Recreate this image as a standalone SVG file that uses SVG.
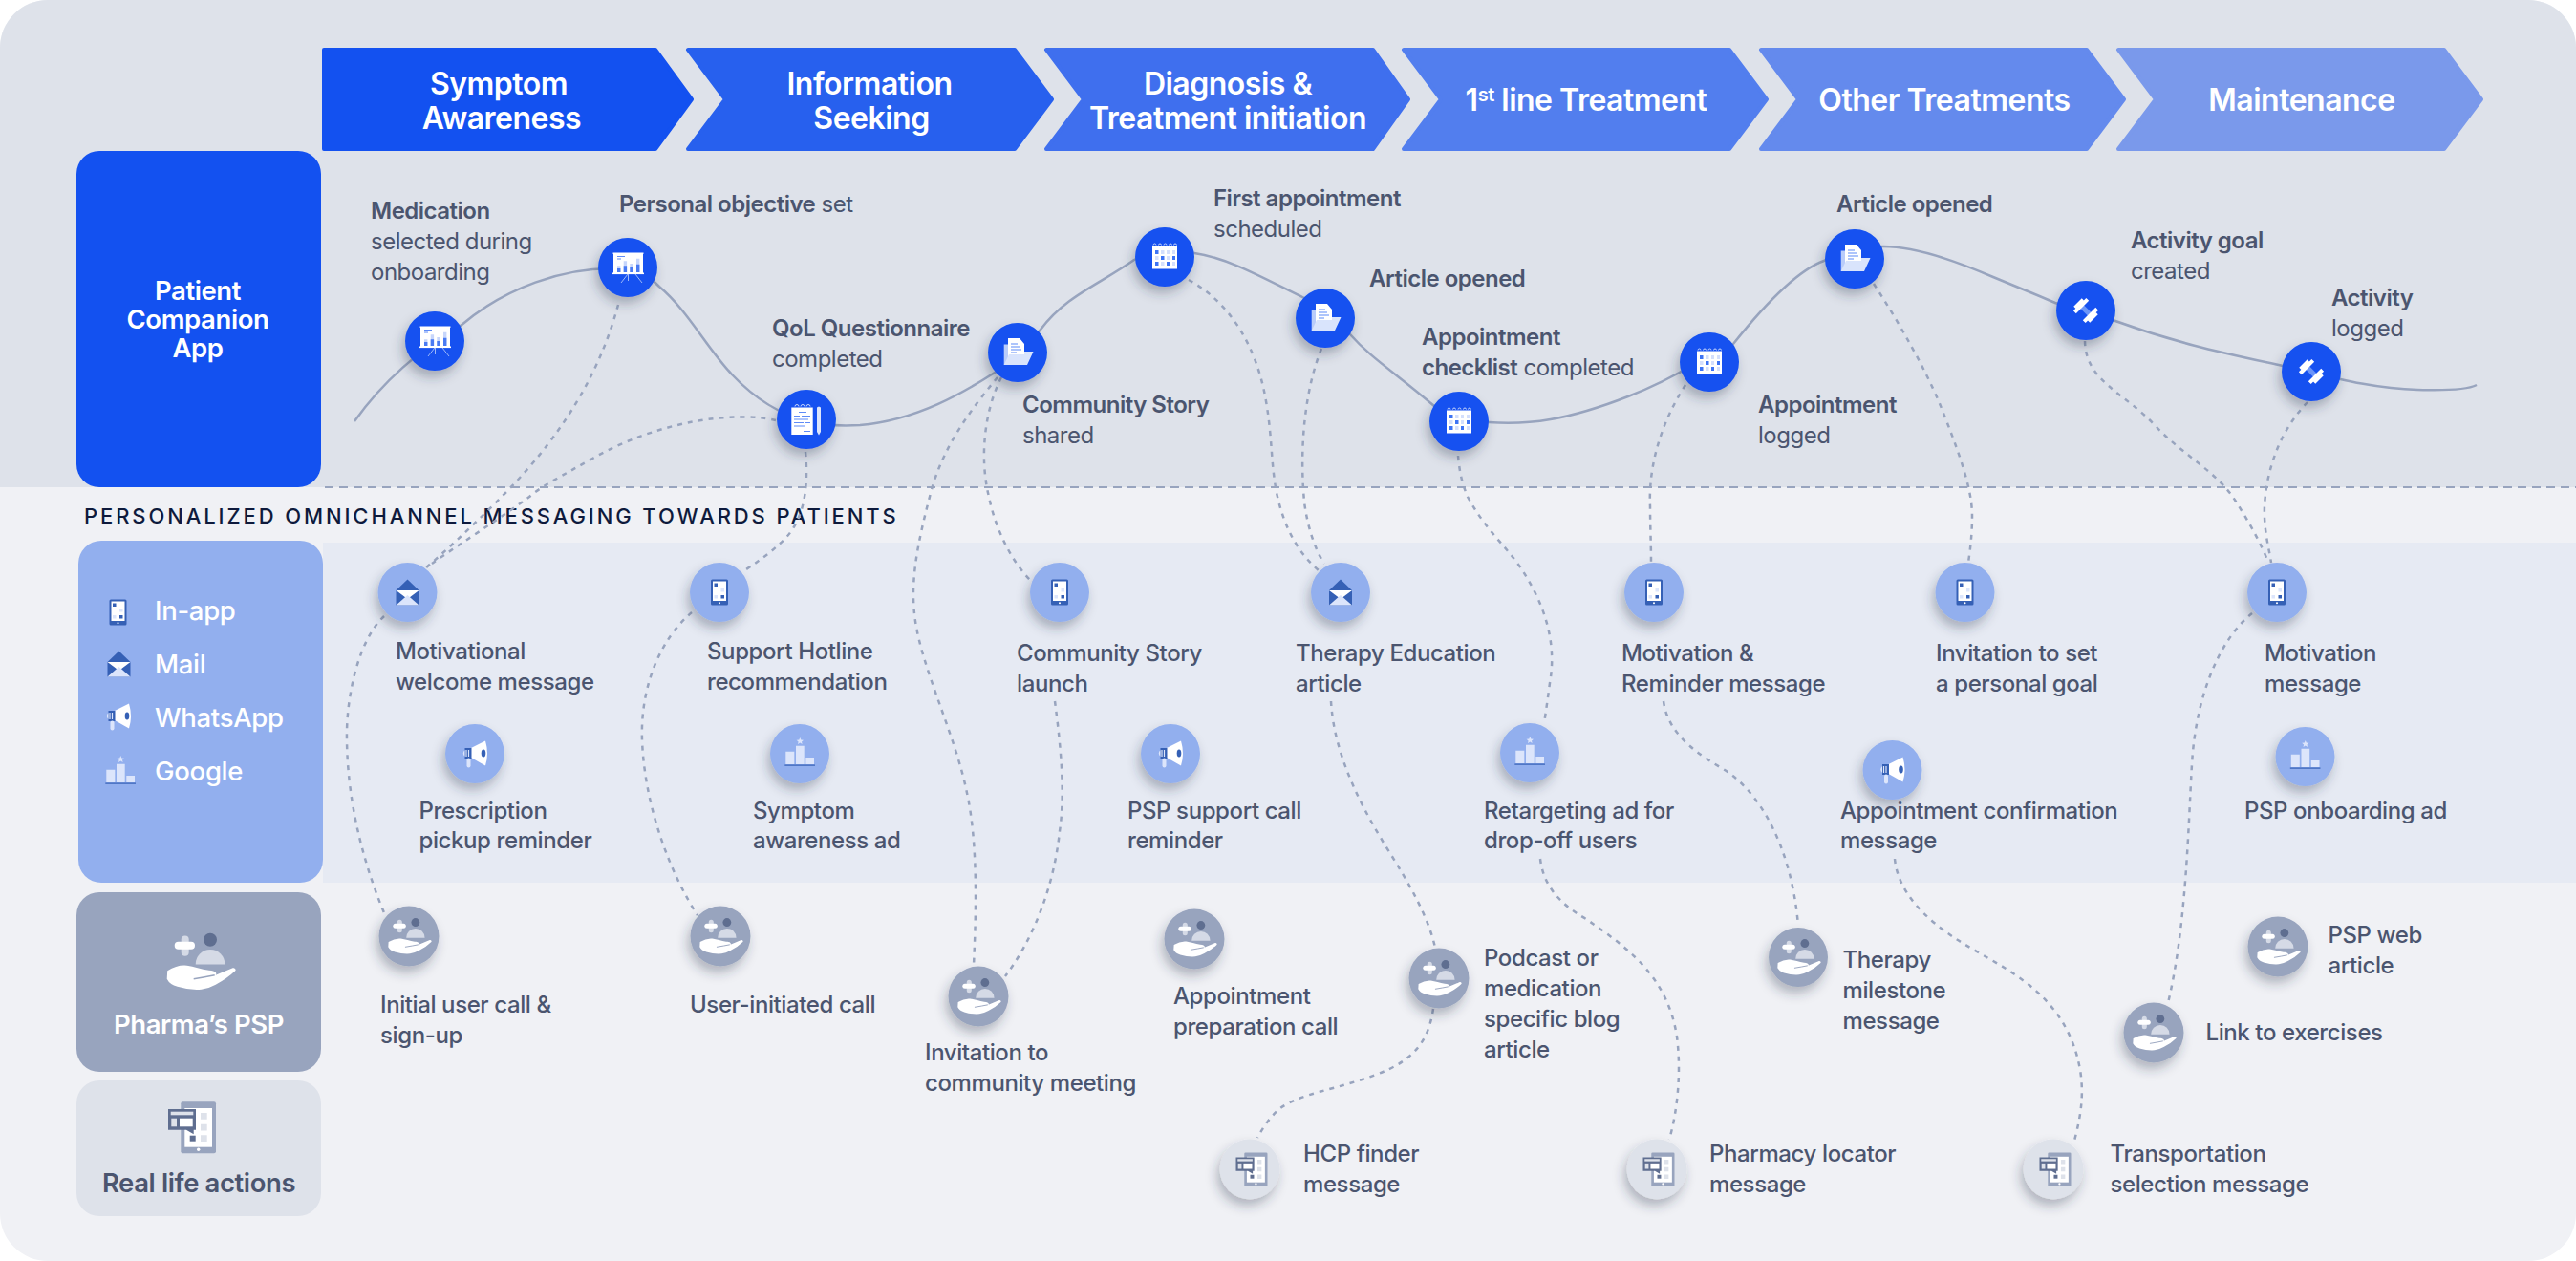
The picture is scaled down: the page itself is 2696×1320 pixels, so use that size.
<svg xmlns="http://www.w3.org/2000/svg" width="2696" height="1320" viewBox="0 0 2696 1320">
<style>
text{font-family:Inter,"Noto Sans","Liberation Sans",sans-serif}
.h{fill:#fff;font-size:32px;font-weight:600;text-anchor:middle;letter-spacing:-.5px}
.r{fill:#fff;font-size:27.500px;font-weight:600;text-anchor:middle;letter-spacing:-.4px}
.g{fill:#fff;font-size:27.500px;font-weight:500;letter-spacing:-.3px}
.l{fill:#4B556F;font-size:24px;font-weight:400;letter-spacing:-.5px}
.m{fill:#4B556F;font-size:24px;font-weight:500;letter-spacing:-.4px}
.b{font-weight:600}
.top{fill:#1351F0;filter:url(#sh)}
.mid{fill:#92AFEE;filter:url(#sh)}
.psp{fill:#98A4BE;filter:url(#sh)}
.rl{fill:#DEE2EA;filter:url(#sh)}
#curve{fill:none;stroke:#98A4BE;stroke-width:2.500}
#links path{fill:none;stroke:#98A4BE;stroke-width:2.500;stroke-dasharray:5 6}
</style>
<defs>
<filter id="sh" x="-40%" y="-40%" width="180%" height="190%"><feDropShadow dx="-3" dy="7" stdDeviation="6" flood-color="#27324f" flood-opacity=".32"/></filter>
<g id="i-pres">
<rect x="-15" y="-15" width="31" height="21" fill="#fff"/><rect x="-16" y="5.500" width="33" height="1.600" fill="#fff"/><rect x="-15.500" y="-15.500" width="32" height="1.400" fill="#fff"/>
<path d="M-11-11.500h8M-11-9h4" stroke="#5E8BF7" stroke-width="1.200"/>
<path d="M-11-1.700h3.400V5H-11zM-4.300-6.700h3.400V5h-3.400zM2.300-4h3.400V5H2.300zM9-9.300h3.400V5H9z" fill="#C7D6FB"/>
<path d="M-11 1h3.400v4H-11zM-4.300-1.700h3.400V5h-3.400zM2.300 0h3.400v5H2.300zM9-3.300h3.400V5H9z" fill="#4A7BF3"/>
<path d="M0 7-7 16M8 7l7 9M.5 7v7" stroke="#9DB8F8" stroke-width="1" fill="none"/>
</g>
<g id="i-note">
<rect x="-15.700" y="-12.500" width="22.400" height="28.500" fill="#fff"/>
<path d="M-12-13.500a2 2 0 0 1 4 0M-6-13.500a2 2 0 0 1 4 0M0-13.500a2 2 0 0 1 4 0" fill="none" stroke="#C7D6FB" stroke-width="1"/>
<path d="M-8-7.500H0M-13-3.500h6M-5-3.500H4M-13 0h15M-13 3.500H-3M-1 3.500H4M-13 7h12M-3 12.500H4" stroke="#5E8BF7" stroke-width="1.200"/>
<path d="M11-12.500l2-1 2 1V13l-2 3.500-2-3.500z" fill="#DCE5FB"/>
</g>
<g id="i-doc">
<path d="M-14.300-8.500H-6V13H-14.300z" fill="#B9CCFA"/>
<path d="M-10-15H2L7-9V5H-10z" fill="#fff"/>
<path d="M-7-9H0M-7-6H2M-7-3H4M-7 0H-1" stroke="#5E8BF7" stroke-width="1.200"/>
<path d="M-14.300 13-9 2H7V-1H16.500L10 13z" fill="#D9E4FC"/>
</g>
<g id="i-cal">
<rect x="-13" y="-11.500" width="26" height="24" fill="#fff"/>
<path d="M-12-12.500a1.400 1.400 0 0 1 3 0M-6.500-12.500a1.400 1.400 0 0 1 3 0M-1-12.500a1.400 1.400 0 0 1 3 0M4.500-12.500a1.400 1.400 0 0 1 3 0M9.500-12.500a1.400 1.400 0 0 1 3 0" fill="none" stroke="#C7D6FB" stroke-width="1"/>
<path d="M-4-7H-.5v4H-4zM8-7h3v4H8zM-10-1h3.500v4H-10zM8 5h3v4H8zM-4 5H-.5v4H-4zM2-7h3v4H2zM2-1h3v4H2z" fill="#D4DFFC"/>
<path d="M-10-7h3.500v4H-10zM-4-1H-.5v4H-4zM8-1h3v4H8zM-10 5h3.500v4H-10zM2 5h3v4H2z" fill="#3E74F4"/>
</g>
<g id="i-gym">
<g transform="rotate(45)">
<rect x="-9" y="-2.500" width="18" height="5" fill="#6C95F8"/>
<path d="M-12-6h3V6h-3zM-9-9.500h4V9.500h-4zM9-6h3V6H9zM5-9.500h4V9.500H5z" fill="#fff"/>
</g>
</g>
<g id="i-phone">
<rect x="-9" y="-13.500" width="18" height="27" rx="1.500" fill="#3560B5"/><rect x="-7" y="-11.500" width="14" height="20.500" fill="#fff"/>
<rect x="-5.500" y="-9.500" width="3.500" height="3.500" fill="#3560B5"/><rect x="1.500" y="-4" width="3.500" height="3.500" fill="#DCE5FB"/><rect x="-5.500" y="3" width="3.500" height="3.500" fill="#DCE5FB"/><rect x="1.500" y="3" width="3.500" height="3.500" fill="#3560B5"/>
<circle cx="0" cy="11.300" r="1" fill="#fff"/>
</g>
<g id="i-mail">
<path d="M0-13.500 12-2V13.500H-12V-2z" fill="#3560B5"/><path d="M-12-2H12L0 7z" fill="#fff"/><path d="M-12 13.500 0 3 12 13.500z" fill="#DCE5FB"/>
</g>
<g id="i-horn">
<path d="M-4-6 11-13.500Q15 0 11 12.500L-4 4z" fill="#fff"/><rect x="-10.500" y="-6" width="7" height="11" fill="#3560B5"/><path d="M-9-4v7M-6.500-4v7" stroke="#DCE5FB" stroke-width="1.200"/>
<path d="M-10.500-4Q-14-.5-10.500 3z" fill="#DCE5FB"/><rect x="-8.500" y="4.500" width="4" height="10" rx="2" fill="#DCE5FB"/><ellipse cx="9" cy="-.5" rx="2.300" ry="4" fill="#3560B5"/>
</g>
<g id="i-pod">
<path d="M-14.700-2.300h9V11h-9zM-4-8.300h8.700V11H-4zM6.300 4H15v7H6.300z" fill="#DCE5FB"/>
<path d="M.3-17l1 2.500 2.700.2-2 1.700.6 2.600-2.300-1.400-2.300 1.400.6-2.600-2-1.700 2.700-.2z" fill="#DCE5FB"/>
<rect x="-15.700" y="11.500" width="31.700" height="1.200" fill="#3560B5"/>
</g>
<g id="i-hand">
<rect x="-21" y="-27.300" width="8" height="21.300" rx="4" fill="#D5DAE6"/><rect x="-28" y="-21" width="21.300" height="8" rx="4" fill="#fff"/>
<circle cx="9.300" cy="-23" r="7" fill="#5F6E90"/><path d="M-6 2.700A15.300 15.300 0 0 1 24.700 2.700z" fill="#D5DAE6"/>
<path d="M-35.500 9.500Q-25 3-15 4C-8 5 0 8 8 9 14 9 17 12 15 14L33 6.500Q36 6 36 9 28 17 15 24 8 28 0 29-12 30-25 26-33 24-36 18-35.500 9.500Z" fill="#fff"/>
<path d="M-8 18Q4 16 14 14" stroke="#98A4BE" stroke-width="1.500" fill="none"/>
</g>
<g id="i-real">
<rect x="-11.700" y="-26.700" width="36.700" height="54" rx="2" fill="#98A4BE"/><rect x="-7.700" y="-20" width="28.700" height="40.700" fill="#fff"/>
<path d="M9-15h6.700v6.700H9zM9-3.300h6.700v6.700H9zM9 8.300h6.700V15H9z" fill="#DEE2EA"/><rect x="-2.300" y="8.700" width="6" height="6" fill="#5F6E90"/><circle cx="6.700" cy="23.300" r="1.700" fill="#fff"/>
<path d="M-25-19H4V2.700H1.700V7.300L-6 2.700H-25z" fill="#5F6E90"/><rect x="-22.300" y="-16.300" width="23.600" height="3.600" fill="#DEE2EA"/><rect x="-21.700" y="-9.300" width="5.700" height="8.600" fill="#DEE2EA"/><rect x="-13" y="-9.300" width="13.700" height="8.600" fill="#fff"/>
</g>
</defs>

<g id="background">
<rect width="2696" height="1320" rx="50" fill="#F0F1F5"/>
<path d="M0 510V50A50 50 0 0 1 50 0H2646A50 50 0 0 1 2696 50V510Z" fill="#DEE2EA"/>
<rect x="338" y="568" width="2358" height="356" fill="#E6EAF3"/>
<path d="M340 510H2696" stroke="#98A4BE" stroke-width="2" stroke-dasharray="9 6"/>
</g>

<g id="stages" stroke-linejoin="round" stroke-width="4">
<g id="stage-1"><path d="M339 52H686L724 104 686 156H339Z" fill="#1351F0" stroke="#1351F0"/><text class="h" x="522" y="99">Symptom</text><text class="h" x="525" y="135">Awareness</text></g>
<g id="stage-2"><path d="M720 52H1062L1101 104 1062 156H720L759 104Z" fill="#2760EE" stroke="#2760EE"/><text class="h" x="910" y="99">Information</text><text class="h" x="912" y="135">Seeking</text></g>
<g id="stage-3"><path d="M1095 52H1437L1474 104 1437 156H1095L1134 104Z" fill="#3F6FEE" stroke="#3F6FEE"/><text class="h" x="1285" y="99">Diagnosis &amp;</text><text class="h" x="1285" y="135">Treatment initiation</text></g>
<g id="stage-4"><path d="M1469 52H1810L1849 104 1810 156H1469L1508 104Z" fill="#527EEE" stroke="#527EEE"/><text class="h" x="1660" y="116">1<tspan dy="-10" font-size="20">st</tspan><tspan dy="10"> line Treatment</tspan></text></g>
<g id="stage-5"><path d="M1843 52H2184L2223 104 2184 156H1843L1882 104Z" fill="#648AED" stroke="#648AED"/><text class="h" x="2035" y="116">Other Treatments</text></g>
<g id="stage-6"><path d="M2217 52H2558L2597 104 2558 156H2217L2256 104Z" fill="#7A99EB" stroke="#7A99EB"/><text class="h" x="2409" y="116">Maintenance</text></g>
</g>

<g id="row-labels">
<g id="row-app"><rect x="80" y="158" width="256" height="352" rx="24" fill="#1351F0"/><text class="r" x="207" y="314">Patient</text><text class="r" x="207" y="344">Companion</text><text class="r" x="207" y="374">App</text></g>
<text x="88" y="548" fill="#0E1A3C" font-size="22" font-weight="500" letter-spacing="2.900">PERSONALIZED OMNICHANNEL MESSAGING TOWARDS PATIENTS</text>
<g id="row-channels"><rect x="82" y="566" width="256" height="358" rx="24" fill="#92AFEE"/>
<use href="#i-phone" transform="translate(123.500,641)"/><text class="g" x="162" y="649">In-app</text>
<use href="#i-mail" transform="translate(124.500,695)"/><text class="g" x="162" y="705">Mail</text>
<use href="#i-horn" transform="translate(124,750)"/><text class="g" x="162" y="761">WhatsApp</text>
<use href="#i-pod" transform="translate(126,808)"/><text class="g" x="162" y="817">Google</text></g>
<g id="row-psp"><rect x="80" y="934" width="256" height="188" rx="24" fill="#98A4BE"/><use href="#i-hand" transform="translate(210.700,1006.700)"/><text class="r" x="208" y="1082">Pharma’s PSP</text></g>
<g id="row-real"><rect x="80" y="1131" width="256" height="142" rx="24" fill="#DEE2EA"/><use href="#i-real" transform="translate(201,1180)"/><text class="r" x="208" y="1248" style="fill:#4B556F">Real life actions</text></g>
</g>

<path id="curve" d="M371 441C400 400 440 365 482 341C530 300 590 281 640 281C670 281 680 290 690 300C720 325 740 365 767 393C785 412 810 432 845 441C860 445 880 446 900 445C960 440 1010 410 1041 390C1060 375 1075 362 1089 345C1115 310 1150 298 1187 272C1205 262 1230 262 1250 265C1285 270 1320 290 1365 312C1385 325 1398 335 1413 350C1435 375 1460 390 1501 425C1515 437 1535 441 1558 442C1600 445 1640 440 1704 415C1730 405 1750 395 1775 380C1790 372 1800 372 1814 360C1830 340 1875 285 1909 273C1925 262 1950 258 1971 258C2000 258 2040 270 2086 290C2115 302 2135 310 2151 317L2214 336C2280 360 2330 370 2389 383C2430 392 2480 407 2530 408C2560 409 2582 408 2592 403"/>

<g id="links">
<path d="M647 319C632 375 600 445 525 520C500 545 472 572 445 595"/>
<path d="M812 440C770 430 690 440 620 480C590 497 565 510 554 520C520 545 480 570 452 590"/>
<path d="M402 645C375 670 362 730 363 775C364 850 385 915 403 958"/>
<path d="M843 473C847 515 840 550 815 570C805 580 790 590 775 600"/>
<path d="M724 641C690 670 670 720 672 775C675 850 705 920 730 958"/>
<path d="M1044 395C1015 430 985 470 973 520C960 570 952 610 958 650C965 700 1000 770 1012 830C1023 880 1022 950 1019 1010"/>
<path d="M1048 395C1030 430 1025 480 1035 520C1042 555 1060 590 1080 609"/>
<path d="M1104 734C1110 780 1115 830 1109 870C1103 930 1080 985 1052 1022"/>
<path d="M1244 293C1285 315 1315 360 1325 420C1332 460 1330 490 1337 520C1345 555 1360 580 1380 597"/>
<path d="M1383 365C1365 410 1360 470 1365 525C1368 550 1376 575 1386 590"/>
<path d="M1393 734C1396 790 1425 845 1451 887C1475 925 1495 960 1502 992"/>
<path d="M1500 1056C1495 1090 1480 1110 1440 1125C1400 1140 1360 1145 1340 1160C1330 1168 1322 1180 1316 1191"/>
<path d="M1526 477C1528 500 1532 510 1536 520C1555 555 1575 570 1592 595C1615 630 1630 670 1622 715C1620 730 1618 745 1616 757"/>
<path d="M1612 899C1615 925 1630 945 1660 962C1700 990 1745 1020 1755 1085C1760 1125 1755 1165 1747 1193"/>
<path d="M1764 403C1740 440 1725 485 1727 530C1727 550 1728 570 1728 589"/>
<path d="M1741 734C1745 765 1770 785 1800 803C1840 825 1875 885 1882 969"/>
<path d="M1961 297C1989 340 2014 385 2029 420C2049 470 2064 510 2064 540C2064 560 2062 575 2060 589"/>
<path d="M2182 357C2183 400 2223 410 2257 447C2283 475 2322 495 2340 525C2353 545 2367 570 2374 589"/>
<path d="M2415 421C2387 450 2372 490 2370 530C2369 555 2375 575 2377 589"/>
<path d="M2357 642C2322 670 2298 730 2294 800C2290 870 2288 970 2269 1050"/>
<path d="M1983 899C1986 930 2009 960 2057 989C2099 1015 2163 1040 2177 1120C2182 1150 2176 1175 2170 1198"/>
</g>

<g id="n-medication"><circle class="top" cx="455" cy="357" r="31"/><use href="#i-pres" x="455" y="357"/><text class="l b" x="388" y="229">Medication</text><text class="l" x="388" y="261">selected during</text><text class="l" x="388" y="293">onboarding</text></g>
<g id="n-objective"><circle class="top" cx="657" cy="280" r="31"/><use href="#i-pres" x="657" y="280"/><text class="l" x="648" y="222"><tspan class="b">Personal objective</tspan> set</text></g>
<g id="n-qol"><circle class="top" cx="844" cy="439" r="31"/><use href="#i-note" x="844" y="439"/><text class="l b" x="808" y="352">QoL Questionnaire</text><text class="l" x="808" y="384">completed</text></g>
<g id="n-story"><circle class="top" cx="1065" cy="369" r="31"/><use href="#i-doc" x="1065" y="369"/><text class="l b" x="1070" y="432">Community Story</text><text class="l" x="1070" y="464">shared</text></g>
<g id="n-first"><circle class="top" cx="1219" cy="269" r="31"/><use href="#i-cal" x="1219" y="269"/><text class="l b" x="1270" y="216">First appointment</text><text class="l" x="1270" y="248">scheduled</text></g>
<g id="n-article1"><circle class="top" cx="1387" cy="333" r="31"/><use href="#i-doc" x="1387" y="333"/><text class="l b" x="1433" y="300">Article opened</text></g>
<g id="n-checklist"><circle class="top" cx="1527" cy="441" r="31"/><use href="#i-cal" x="1527" y="441"/><text class="l b" x="1488" y="361">Appointment</text><text class="l" x="1488" y="393"><tspan class="b">checklist</tspan> completed</text></g>
<g id="n-logged"><circle class="top" cx="1789" cy="379" r="31"/><use href="#i-cal" x="1789" y="379"/><text class="l b" x="1840" y="432">Appointment</text><text class="l" x="1840" y="464">logged</text></g>
<g id="n-article2"><circle class="top" cx="1941" cy="271" r="31"/><use href="#i-doc" x="1941" y="271"/><text class="l b" x="1922" y="222">Article opened</text></g>
<g id="n-goal"><circle class="top" cx="2183" cy="325" r="31"/><use href="#i-gym" x="2183" y="325"/><text class="l b" x="2230" y="260">Activity goal</text><text class="l" x="2230" y="292">created</text></g>
<g id="n-activity"><circle class="top" cx="2419" cy="389" r="31"/><use href="#i-gym" x="2419" y="389"/><text class="l b" x="2440" y="320">Activity</text><text class="l" x="2440" y="352">logged</text></g>

<g id="m-welcome"><circle class="mid" cx="426.500" cy="620" r="31"/><use href="#i-mail" x="426.500" y="620"/><text class="m" x="414" y="690">Motivational</text><text class="m" x="414" y="722">welcome message</text></g>
<g id="m-hotline"><circle class="mid" cx="753" cy="620" r="31"/><use href="#i-phone" x="753" y="620"/><text class="m" x="740" y="690">Support Hotline</text><text class="m" x="740" y="722">recommendation</text></g>
<g id="m-launch"><circle class="mid" cx="1109" cy="620" r="31"/><use href="#i-phone" x="1109" y="620"/><text class="m" x="1064" y="692">Community Story</text><text class="m" x="1064" y="724">launch</text></g>
<g id="m-education"><circle class="mid" cx="1403" cy="620" r="31"/><use href="#i-mail" x="1403" y="620"/><text class="m" x="1356" y="692">Therapy Education</text><text class="m" x="1356" y="724">article</text></g>
<g id="m-reminder"><circle class="mid" cx="1731" cy="620" r="31"/><use href="#i-phone" x="1731" y="620"/><text class="m" x="1697" y="692">Motivation &amp;</text><text class="m" x="1697" y="724">Reminder message</text></g>
<g id="m-invite"><circle class="mid" cx="2056.500" cy="620" r="31"/><use href="#i-phone" x="2056.500" y="620"/><text class="m" x="2026" y="692">Invitation to set</text><text class="m" x="2026" y="724">a personal goal</text></g>
<g id="m-motivation"><circle class="mid" cx="2383" cy="620" r="31"/><use href="#i-phone" x="2383" y="620"/><text class="m" x="2370" y="692">Motivation</text><text class="m" x="2370" y="724">message</text></g>
<g id="m-pickup"><circle class="mid" cx="497" cy="789" r="31"/><use href="#i-horn" x="497" y="789"/><text class="m" x="438.500" y="857">Prescription</text><text class="m" x="438.500" y="888">pickup reminder</text></g>
<g id="m-symptom"><circle class="mid" cx="837" cy="789" r="31"/><use href="#i-pod" x="837" y="789"/><text class="m" x="788" y="857">Symptom</text><text class="m" x="788" y="888">awareness ad</text></g>
<g id="m-support"><circle class="mid" cx="1225" cy="789" r="31"/><use href="#i-horn" x="1225" y="789"/><text class="m" x="1180" y="857">PSP support call</text><text class="m" x="1180" y="888">reminder</text></g>
<g id="m-retarget"><circle class="mid" cx="1601" cy="788" r="31"/><use href="#i-pod" x="1601" y="788"/><text class="m" x="1553" y="857">Retargeting ad for</text><text class="m" x="1553" y="888">drop-off users</text></g>
<g id="m-confirm"><circle class="mid" cx="1980.500" cy="806" r="31"/><use href="#i-horn" x="1980.500" y="806"/><text class="m" x="1926" y="857">Appointment confirmation</text><text class="m" x="1926" y="888">message</text></g>
<g id="m-onboarding"><circle class="mid" cx="2412.500" cy="792" r="31"/><use href="#i-pod" x="2412.500" y="792"/><text class="m" x="2349" y="857">PSP onboarding ad</text></g>

<g id="p-signup"><circle class="psp" cx="428" cy="980" r="31.500"/><use href="#i-hand" transform="translate(429,980) scale(.63)"/><text class="m" x="398" y="1060">Initial user call &amp;</text><text class="m" x="398" y="1092">sign-up</text></g>
<g id="p-usercall"><circle class="psp" cx="754" cy="980" r="31.500"/><use href="#i-hand" transform="translate(755,980) scale(.63)"/><text class="m" x="722" y="1060">User-initiated call</text></g>
<g id="p-community"><circle class="psp" cx="1024" cy="1043" r="31.500"/><use href="#i-hand" transform="translate(1025,1043) scale(.63)"/><text class="m" x="968" y="1110">Invitation to</text><text class="m" x="968" y="1142">community meeting</text></g>
<g id="p-prep"><circle class="psp" cx="1250" cy="983" r="31.500"/><use href="#i-hand" transform="translate(1251,983) scale(.63)"/><text class="m" x="1228" y="1051">Appointment</text><text class="m" x="1228" y="1083">preparation call</text></g>
<g id="p-podcast"><circle class="psp" cx="1506" cy="1024" r="31.500"/><use href="#i-hand" transform="translate(1507,1024) scale(.63)"/><text class="m" x="1553" y="1011">Podcast or</text><text class="m" x="1553" y="1043">medication</text><text class="m" x="1553" y="1075">specific blog</text><text class="m" x="1553" y="1107">article</text></g>
<g id="p-milestone"><circle class="psp" cx="1882" cy="1002" r="31"/><use href="#i-hand" transform="translate(1883,1002) scale(.63)"/><text class="m" x="1928.500" y="1013">Therapy</text><text class="m" x="1928.500" y="1045">milestone</text><text class="m" x="1928.500" y="1077">message</text></g>
<g id="p-web"><circle class="psp" cx="2384" cy="991" r="31.500"/><use href="#i-hand" transform="translate(2385,991) scale(.63)"/><text class="m" x="2436.500" y="987">PSP web</text><text class="m" x="2436.500" y="1019">article</text></g>
<g id="p-exercises"><circle class="psp" cx="2254" cy="1081" r="31.500"/><use href="#i-hand" transform="translate(2255,1081) scale(.63)"/><text class="m" x="2308.500" y="1089">Link to exercises</text></g>

<g id="r-hcp"><circle class="rl" cx="1308" cy="1224" r="31.500"/><use href="#i-real" transform="translate(1310,1224) scale(.66)"/><text class="m" x="1364" y="1216">HCP finder</text><text class="m" x="1364" y="1248">message</text></g>
<g id="r-pharmacy"><circle class="rl" cx="1734" cy="1224" r="31.500"/><use href="#i-real" transform="translate(1736,1224) scale(.66)"/><text class="m" x="1789" y="1216">Pharmacy locator</text><text class="m" x="1789" y="1248">message</text></g>
<g id="r-transport"><circle class="rl" cx="2149" cy="1224" r="31.500"/><use href="#i-real" transform="translate(2151,1224) scale(.66)"/><text class="m" x="2208.500" y="1216">Transportation</text><text class="m" x="2208.500" y="1248">selection message</text></g>
</svg>
